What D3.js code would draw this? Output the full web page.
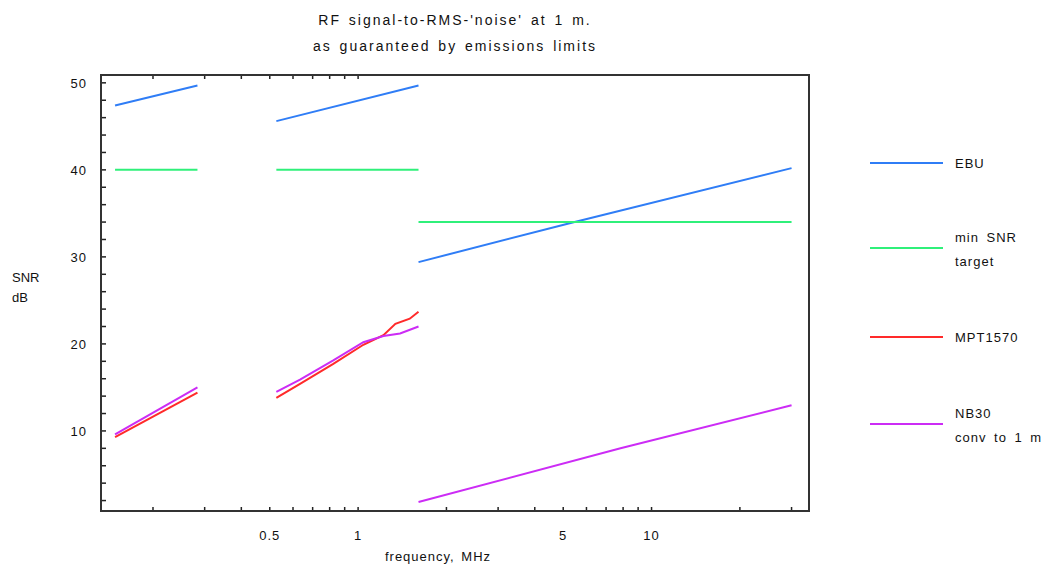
<!DOCTYPE html>
<html><head><meta charset="utf-8">
<script src="https://cdn.jsdelivr.net/npm/d3@7"></script>
<style>body{margin:0;background:#fff}svg{display:block}text{font-family:"Liberation Sans",Arial,sans-serif;fill:#111}</style>
</head><body><svg id="c" width="1046" height="564"></svg>
<script>
// ---- data ----
const titleLines = ["RF signal-to-RMS-'noise' at 1 m.", "as guaranteed by emissions limits"];
const seriesNames = ["EBU", "min SNR\ntarget", "MPT1570", "NB30\nconv to 1 m"];
const seriesColors = ["#2f7df6", "#2ff07a", "#ff2a2a", "#cc2cf5"];
const xTickValues = [0.2,0.3,0.4,0.5,0.6,0.7,0.8,0.9,1,2,3,4,5,6,7,8,9,10,20,30];
const xTickLabels = {0.5:"0.5", 1:"1", 5:"5", 10:"10"};
const yTickValues = [10,20,30,40,50];
// segments: each is [[freq MHz...],[SNR dB...]]
const ebuSegments = [
  [[0.1485, 0.2835], [47.4, 49.7]],
  [[0.5265, 1.6065], [45.6, 49.7]],
  [[1.6065, 5.3, 30], [29.4, 33.9, 40.2]]
];
const targetSegments = [
  [[0.1485, 0.2835], [40, 40]],
  [[0.5265, 1.6065], [40, 40]],
  [[1.6065, 30], [34, 34]]
];
const mptSegments = [
  [[0.1485, 0.2835], [9.3, 14.4]],
  [[0.5265, 0.634, 0.823, 1.042, 1.22, 1.34, 1.50, 1.6065], [13.8, 15.4, 17.7, 19.9, 21.0, 22.3, 22.9, 23.7]]
];
const nb30Segments = [
  [[0.1485, 0.2835], [9.6, 15.0]],
  [[0.5265, 0.634, 0.823, 1.042, 1.22, 1.39, 1.6065], [14.5, 15.9, 18.1, 20.2, 20.9, 21.2, 22.0]],
  [[1.6065, 7.84, 30], [1.84, 8.0, 12.95]]
];
const allSeries = [ebuSegments, targetSegments, mptSegments, nb30Segments];

// ---- layout ----
const svg = d3.select("#c");
const L = 101, R = 809, T = 75, B = 511;
const x = d3.scaleLog().domain([0.133, 34.4]).range([L, R]);
const y = d3.scaleLinear().domain([0.8, 50.9]).range([B, T]);
const LS = "1px";

svg.append("g").selectAll("text").data(titleLines).join("text")
  .attr("x", 455).attr("y", (d,i)=>25+i*26).attr("text-anchor","middle")
  .attr("font-size", 14).attr("letter-spacing","2px").attr("word-spacing","2px").text(d=>d);

// y minor ticks (every 2) inward on left
const yMinor = d3.range(2, 51, 2);
svg.append("g").selectAll("line").data(yMinor).join("line")
  .attr("x1", L).attr("x2", L+5).attr("y1", d=>y(d)).attr("y2", d=>y(d))
  .attr("stroke","#222").attr("stroke-width",1.5);
svg.append("g").selectAll("text").data(yTickValues).join("text")
  .attr("x", 87).attr("y", d=>y(d)+5).attr("text-anchor","end").attr("font-size",13)
  .attr("letter-spacing",LS).text(d=>d);

// x ticks inward at bottom and top
svg.append("g").selectAll("line").data(xTickValues).join("line")
  .attr("x1", d=>x(d)).attr("x2", d=>x(d)).attr("y1", B).attr("y2", B-4)
  .attr("stroke","#222").attr("stroke-width",1.5);
svg.append("g").selectAll("line").data(xTickValues.filter(d=>d<=1)).join("line")
  .attr("x1", d=>x(d)).attr("x2", d=>x(d)).attr("y1", T).attr("y2", T+4)
  .attr("stroke","#222").attr("stroke-width",1.5);
svg.append("g").selectAll("text").data(Object.keys(xTickLabels).map(Number)).join("text")
  .attr("x", d=>x(d)).attr("y", 540).attr("text-anchor","middle").attr("font-size",13)
  .attr("letter-spacing",LS).text(d=>xTickLabels[d]);

// frame
svg.append("rect").attr("x",L).attr("y",T).attr("width",R-L).attr("height",B-T)
  .attr("fill","none").attr("stroke","#333").attr("stroke-width",2);

// axis titles
svg.append("text").attr("x",12).attr("y",282).attr("font-size",13).text("SNR");
svg.append("text").attr("x",12).attr("y",302).attr("font-size",13).text("dB");
svg.append("text").attr("x",438).attr("y",561).attr("text-anchor","middle").attr("font-size",13)
  .attr("letter-spacing",LS).attr("word-spacing","2px").text("frequency, MHz");

// lines
const line = d3.line().x(d=>x(d[0])).y(d=>y(d[1]));
allSeries.forEach((segs, si) => {
  segs.forEach(seg => {
    const pts = seg[0].map((f,i)=>[f, seg[1][i]]);
    svg.append("path").attr("d", line(pts)).attr("fill","none")
      .attr("stroke", seriesColors[si]).attr("stroke-width",2);
  });
});

// legend
const legY = [163, 248, 337, 424];
seriesNames.forEach((n, i) => {
  svg.append("line").attr("x1",870).attr("x2",943).attr("y1",legY[i]).attr("y2",legY[i])
    .attr("stroke",seriesColors[i]).attr("stroke-width",2);
  const parts = n.split("\n");
  const y0 = parts.length===1 ? legY[i]+5 : legY[i]-6;
  parts.forEach((p,j)=>{
    svg.append("text").attr("x",955).attr("y",y0+j*24).attr("font-size",13)
      .attr("letter-spacing",LS).attr("word-spacing","3px").text(p);
  });
});
</script></body></html>
